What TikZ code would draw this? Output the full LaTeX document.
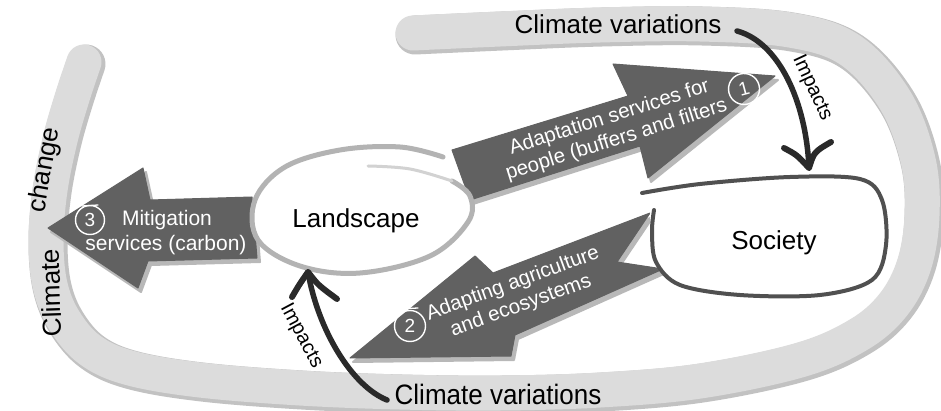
\documentclass[tikz,border=0pt]{standalone}
\usepackage{fontspec}
\setmainfont{Liberation Sans}
\usetikzlibrary{calc}
\definecolor{bandgray}{HTML}{DCDCDC}
\definecolor{bandshadow}{HTML}{C2C2C2}
\definecolor{arrowgray}{HTML}{616161}
\definecolor{arrowshadow}{HTML}{B8B8B8}
\definecolor{ringgray}{HTML}{B3B3B3}
\definecolor{ringfaint}{HTML}{D2D2D2}
\definecolor{socgray}{HTML}{505050}
\definecolor{impactcol}{HTML}{2A2A2A}
\begin{document}
\begin{tikzpicture}[x=1pt,y=-1pt,
  lbl/.style={font=\fontsize{26}{30}\selectfont, text=black, inner sep=0pt},
  wlbl/.style={font=\fontsize{20.5}{23.5}\selectfont, text=white, align=center, inner sep=0pt},
  mlbl/.style={font=\fontsize{21}{24}\selectfont, text=white, inner sep=0pt},
  imptxt/.style={font=\fontsize{20}{24}\selectfont, text=black, inner sep=0pt},
  numc/.style={circle, draw=white, line width=1.4pt, text=white, font=\fontsize{19}{19}\selectfont, minimum size=31pt, inner sep=0pt},
  bigarrow/.style={fill=arrowgray, draw=arrowgray, line width=1pt, line join=round},
  arrshadow/.style={fill=arrowshadow, draw=arrowshadow, line width=2pt, line join=round},
  bandbase/.style={line width=39pt, draw=bandshadow, line cap=round, line join=round},
  bandtop/.style={line width=35pt, draw=bandgray, line cap=round, line join=round},
  impactline/.style={draw=impactcol, line width=5.5pt, line cap=round},
  impacthead/.style={draw=impactcol, line width=6pt, line cap=round, line join=round},
  ring/.style={draw=ringgray, line width=5pt, line cap=round},
  socline/.style={draw=socgray, line width=4pt, line cap=round, line join=round},
  tick/.style={draw=white, line width=1.3pt, line cap=round},
]
\useasboundingbox (0,0) rectangle (941,411);
\fill[white] (0,0) rectangle (941,411);

% outer band
\def\bandpath{plot[smooth, tension=0.6] coordinates {(413,33) (500,29) (600,25) (700,24) (790,30) (850,50) (895,100) (918,160) (922,215) (914,265) (893,305) (858,335) (800,360) (700,381) (600,390) (500,393) (400,392) (300,388) (200,380) (130,368) (90,350) (64,320) (50,285) (46,240) (50,190) (60,140) (72,98) (84,62)}}
\draw[bandbase, shift={(2,2)}] \bandpath;
\draw[bandtop] \bandpath;

% arrow 1 (adaptation services)
\begin{scope}[shift={(3,4)}]
\path[arrshadow] (470,200) -- (452,150) -- (628,96) -- (613,64) -- (775,76) -- (648,178) -- (640,146) -- cycle;
\end{scope}
\path[bigarrow] (470,200) -- (452,150) -- (628,96) -- (613,64) -- (775,76) -- (648,178) -- (640,146) -- cycle;

% arrow 2 (adapting agriculture)
\begin{scope}[shift={(3,4)}]
\path[arrshadow] (350,358) -- (475,256) -- (493,273) -- (650,213) -- (617,262) -- (663,269) -- (515,335) -- (511,356) -- cycle;
\end{scope}
\path[bigarrow] (350,358) -- (475,256) -- (493,273) -- (650,213) -- (617,262) -- (663,269) -- (515,335) -- (511,356) -- cycle;

% arrow 3 (mitigation)
\begin{scope}[shift={(3,4)}]
\path[arrshadow] (48,228) -- (143,168) -- (150,200) -- (252,197) -- (257,258) -- (148,261) -- (138,288) -- cycle;
\end{scope}
\path[bigarrow] (48,228) -- (143,168) -- (150,200) -- (252,197) -- (257,258) -- (148,261) -- (138,288) -- cycle;

% landscape ring
\fill[white] plot[smooth cycle, tension=0.7] coordinates {(360,150) (285,167) (255,200) (258,240) (300,266) (360,273) (430,256) (468,222) (470,196) (440,168)};
\draw[ring] plot[smooth, tension=0.6] coordinates {(443,157) (400,147) (340,150) (285,167) (255,200) (258,240) (300,266) (360,273) (430,256) (468,222) (470,196) (452,181)};
\draw[draw=ringfaint, line width=3pt, line cap=round] plot[smooth, tension=0.6] coordinates {(452,181) (410,169) (368,166)};

% society blob
\fill[white] plot[smooth cycle, tension=0.55] coordinates {(700,184) (790,177) (860,179) (882,200) (886,245) (872,280) (820,295) (740,295) (680,285) (656,262) (652,232) (654,205)};
\draw[socline] plot[smooth, tension=0.55] coordinates {(642,193) (700,184) (790,177) (860,179) (882,200) (886,245) (872,280) (820,295) (740,295) (680,285) (656,262) (652,232) (654,210)};

% main labels
\node[lbl] (land) at (356,221) {Landscape};
\node[lbl] (soc) at (774,243) {Society};
\node[lbl] (cvtop) at (618,24) {Climate variations};
\node[lbl, yscale=1.08] (cvbot) at (498,394) {Climate variations};
\node[lbl, rotate=80] (chg) at (45,170) {change};
\node[lbl, rotate=92] (clim) at (51,293) {Climate};

% arrow texts
\node[wlbl, rotate=17.5] (t1) at (613,129) {Adaptation services for\\people (buffers and filters};
\node[wlbl, rotate=20] (t2) at (517,295) {Adapting agriculture\\and ecosystems};
\node[mlbl] (t3a) at (167,220) {Mitigation};
\node[mlbl] (t3b) at (166,245) {services (carbon)};

% number circles
\node[numc, rotate=15] (n1) at (744,89) {1};
\node[numc] (n2) at (410,326) {2};
\node[numc, minimum size=29pt] (n3) at (90,220) {3};
\draw[tick] (399,309) -- (418,308);
\draw[tick] (82,206) -- (98,205);

% impacts arrows
\coordinate (ia1) at (737,31);
\coordinate (ia2) at (809,168);
\draw[impactline] (ia1) .. controls (778,42) and (806,100) .. (ia2);
\draw[impacthead] (784,148) .. controls (797,155) .. (ia2) .. controls (814,152) .. (831,142);
\node[imptxt, rotate=-65] (imp1) at (812,88) {Impacts};

\coordinate (ib1) at (387,400);
\coordinate (ib2) at (308,272);
\draw[impactline] (ib1) .. controls (352,386) and (318,330) .. (ib2);
\draw[impacthead] (292,297) .. controls (299,285) .. (ib2) .. controls (318,285) .. (337,299);
\node[imptxt, rotate=-62] (imp2) at (301,336) {Impacts};
\end{tikzpicture}
\end{document}
